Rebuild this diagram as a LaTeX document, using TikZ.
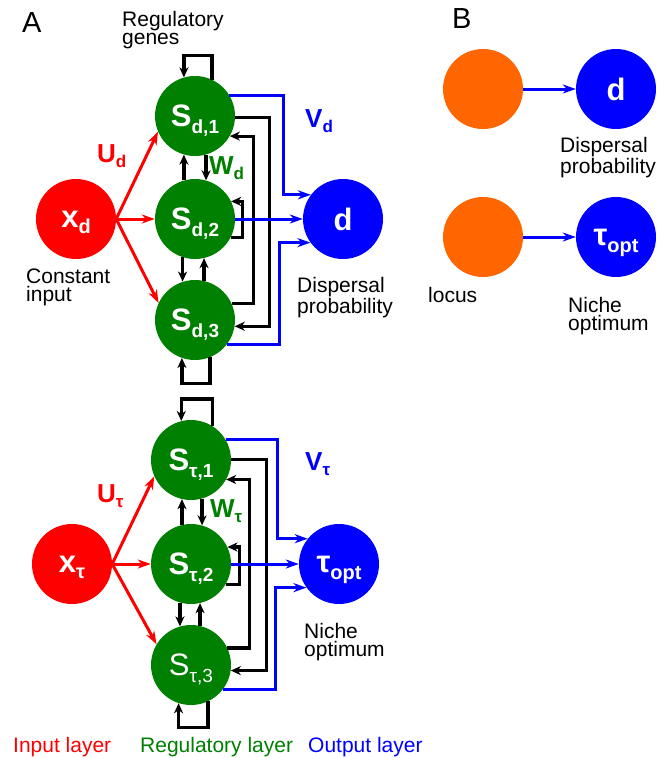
\documentclass[tikz,border=0pt]{standalone}
\usepackage{fontspec}
\setmainfont{Liberation Sans}
\usetikzlibrary{arrows.meta,calc}
\definecolor{nred}{RGB}{255,0,0}
\definecolor{ngreen}{RGB}{0,128,0}
\definecolor{nblue}{RGB}{0,0,255}
\definecolor{norange}{RGB}{255,102,0}
\newcommand{\subtx}[4]{#1\raisebox{-#4}[0pt][0pt]{\fontsize{#3}{#3}\selectfont #2}}
\begin{document}
\begin{tikzpicture}[x=1pt,y=-1pt,
 neuron/.style={circle,minimum size=80pt,inner sep=0pt,text=white,font=\fontsize{31}{31}\selectfont\bfseries},
 inp/.style={neuron,fill=nred},
 reg/.style={neuron,fill=ngreen},
 outn/.style={neuron,fill=nblue},
 loc/.style={neuron,fill=norange},
 lbl/.style={anchor=base west,inner sep=0pt,align=left,font=\fontsize{21}{18}\selectfont},
 panel/.style={anchor=base west,inner sep=0pt,font=\fontsize{29}{29}\selectfont},
 wlbl/.style={anchor=base west,inner sep=0pt,font=\fontsize{26}{26}\selectfont\bfseries},
 blk/.style={draw=black,line width=3.2pt,-{Stealth[length=10pt,width=9pt,inset=3pt]}},
 redc/.style={draw=nred,line width=3pt,-{Stealth[length=13pt,width=9pt,inset=4pt]}},
 bluc/.style={draw=nblue,line width=3pt,-{Stealth[length=13pt,width=9pt,inset=4pt]}},
]
\useasboundingbox (0,0) rectangle (660,758);

% ---------- panel A, top network ----------
\node[inp] (xd) at (76,219) {\subtx{x}{d}{20}{6pt}};
\node[reg] (sd1) at (195,116) {\subtx{S}{d,1}{19}{7pt}};
\node[reg] (sd2) at (195,219) {\subtx{S}{d,2}{19}{7pt}};
\node[reg] (sd3) at (195,320) {\subtx{S}{d,3}{19}{7pt}};
\node[outn] (d) at (343,219) {d};

% ---------- panel A, bottom network ----------
\node[inp] (xt) at (72,564) {\subtx{x}{τ}{20}{6pt}};
\node[reg] (st1) at (191,460) {\subtx{S}{τ,1}{19}{7pt}};
\node[reg] (st2) at (191,564) {\subtx{S}{τ,2}{19}{7pt}};
\node[reg] (st3) at (191,665) {\mdseries\subtx{S}{τ,3}{19}{7pt}};
\node[outn] (t) at (339,564) {\subtx{τ}{opt}{20}{7pt}};

% ---------- panel B ----------
\node[loc] (o1) at (483,89) {};
\node[outn] (bd) at (616,89) {d};
\node[loc] (o2) at (483,237) {};
\node[outn] (bt) at (616,237) {\subtx{τ}{opt}{20}{7pt}};

% ---------- red input connectors ----------
\draw[redc] (xd.east) -- (sd1.203.4);
\draw[redc] (xd.east) -- (sd2.west);
\draw[redc] (xd.east) -- (sd3.155.3);
\draw[redc] (xt.east) -- (st1.204);
\draw[redc] (xt.east) -- (st2.west);
\draw[redc] (xt.east) -- (st3.149);

% ---------- black regulatory connectors, top ----------
\draw[blk] (sd1.65) -- ++(0,-24) -| (sd1.106.7);
\draw[blk] (sd2.106) -- (sd2.106 |- sd1.254);
\draw[blk] (sd1.286) -- (sd1.286 |- sd2.74);
\draw[blk] (sd2.252.5) -- (sd2.252.5 |- sd3.107.5);
\draw[blk] (sd3.77) -- (sd3.77 |- sd2.283);
\draw[blk] (sd2.333.3) -- ++(11.5,0) |- (sd2.26.7);
\draw[blk] (sd3.24) -- ++(21.5,0) |- (sd1.330);
\draw[blk] (sd1.358.5) -- ++(34,0) |- (sd3.351.4);
\draw[blk] (sd3.292) -- ++(0,26) -| (sd3.251);

% ---------- black regulatory connectors, bottom ----------
\draw[blk] (st1.58.3) -- ++(0,-27) -| (st1.104.5);
\draw[blk] (st2.103) -- (st2.103 |- st1.257);
\draw[blk] (st1.286) -- (st1.286 |- st2.74);
\draw[blk] (st2.254) -- (st2.254 |- st3.106);
\draw[blk] (st3.77) -- (st3.77 |- st2.283);
\draw[blk] (st2.330) -- ++(13.4,0) |- (st2.25);
\draw[blk] (st3.25) -- ++(21.7,0) |- (st1.331.6);
\draw[blk] (st1.1.4) -- ++(35,0) |- (st3.352.8);
\draw[blk] (st3.295.2) -- ++(0,26) -| (st3.252.5);

% ---------- blue output connectors ----------
\draw[bluc] (sd1.31) -- ++(53.7,0) |- (d.143);
\draw[bluc] (sd2.east) -- (d.west);
\draw[bluc] (sd3.322.3) -- ++(52.4,0) |- (d.216.9);
\draw[bluc] (st1.30.5) -- ++(51.5,0) |- (t.141.3);
\draw[bluc] (st2.east) -- (t.west);
\draw[bluc] (st3.322.5) -- ++(53.3,0) |- (t.216.9);
\draw[bluc] (o1.east) -- (bd.west);
\draw[bluc] (o2.east) -- (bt.west);

% ---------- weight labels ----------
\node[wlbl,text=nred] (ud) at (97,162) {\subtx{U}{d}{17}{5pt}};
\node[wlbl,text=ngreen] (wd) at (209,174) {\subtx{W}{d}{17}{5pt}};
\node[wlbl,text=nblue] (vd) at (305,127) {\subtx{V}{d}{17}{5pt}};
\node[wlbl,text=nred] (ut) at (97,502) {\subtx{U}{τ}{17}{5pt}};
\node[wlbl,text=ngreen] (wt) at (210,517) {\subtx{W}{τ}{17}{5pt}};
\node[wlbl,text=nblue] (vt) at (305,470) {\subtx{V}{τ}{17}{5pt}};

% ---------- texts (base anchor = last line) ----------
\node[panel] (pa) at (22,32) {A};
\node[panel] (pb) at (452,28) {B};
\node[lbl] (rg) at (122,44) {Regulatory\\genes};
\node[lbl] (ci) at (26,301) {Constant\\input};
\node[lbl] (dp) at (297,313) {Dispersal\\probability};
\node[lbl] (no) at (304,656) {Niche\\optimum};
\node[lbl] (bdp) at (560,173) {Dispersal\\probability};
\node[lbl] (blc) at (428,302) {locus};
\node[lbl] (bno) at (568,330) {Niche\\optimum};
\node[lbl,text=nred] (lin) at (13,752) {Input layer};
\node[lbl,text=ngreen] (lrg) at (140,752) {Regulatory layer};
\node[lbl,text=nblue] (lout) at (308,752) {Output layer};
\end{tikzpicture}
\end{document}
